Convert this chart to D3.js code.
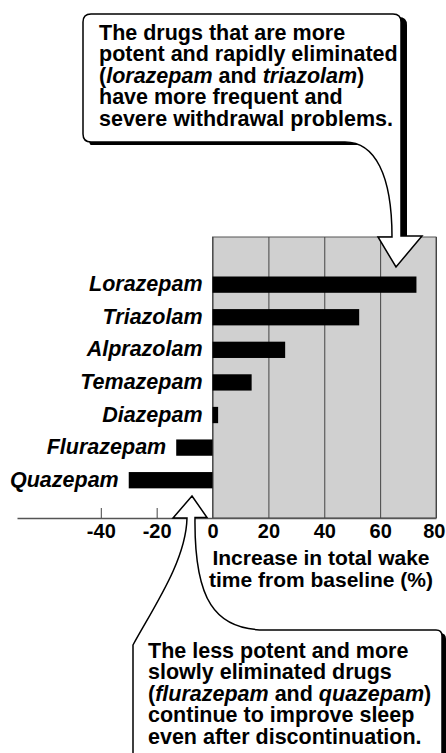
<!DOCTYPE html>
<html>
<head>
<meta charset="utf-8">
<script src="https://cdn.jsdelivr.net/npm/d3@7"></script>
<style>
  body { margin: 0; background: #fff; }
  svg text { font-family: "Liberation Sans", Arial, Helvetica, sans-serif; font-weight: bold; fill: #000; }
</style>
</head>
<body>
<svg id="chart" width="446" height="753"></svg>
<script>
// data
var drugs = ["Lorazepam", "Triazolam", "Alprazolam", "Temazepam", "Diazepam", "Flurazepam", "Quazepam"];
var wakeIncrease = [73, 52.5, 26, 14, 2, -13, -30];
var tickValues = [-40, -20, 0, 20, 40, 60, 80];
var axisTitle = ["Increase in total wake", "time from baseline (%)"];

// callout texts, segments flagged italic
var topNote = [
  [["The drugs that are more", false]],
  [["potent and rapidly eliminated", false]],
  [["(", false], ["lorazepam", true], [" and ", false], ["triazolam", true], [")", false]],
  [["have more frequent and", false]],
  [["severe withdrawal problems.", false]]
];
var bottomNote = [
  [["The less potent and more", false]],
  [["slowly eliminated drugs", false]],
  [["(", false], ["flurazepam", true], [" and ", false], ["quazepam", true], [")", false]],
  [["continue to improve sleep", false]],
  [["even after discontinuation.", false]]
];

var svg = d3.select("#chart");
var axisY = 518, panelTop = 237;

var x = d3.scaleLinear().domain([-70, 80]).range([17, 436]);
var y = d3.scaleBand().domain(drugs).range([268.35, 496.5]).paddingInner(0.5).paddingOuter(0.25);

// grey panel for the positive side
svg.append("rect")
  .attr("x", x(0)).attr("y", panelTop)
  .attr("width", x(80) - x(0)).attr("height", axisY - panelTop)
  .attr("fill", "#d0d0d0").attr("stroke", "#555").attr("stroke-width", 1);

// axis (ticks >= 0 become grid lines)
var axis = svg.append("g")
  .attr("transform", "translate(0," + axisY + ")")
  .call(d3.axisBottom(x).tickValues(tickValues).tickSizeInner(-10).tickSizeOuter(0).tickPadding(6));
axis.select(".domain").attr("stroke", "#555").attr("stroke-width", 1.5);
axis.selectAll(".tick line").attr("stroke", "#444").attr("stroke-width", 1)
  .filter(function(d) { return d >= 0; })
  .attr("y2", -(axisY - panelTop));
axis.selectAll(".tick text").attr("font-size", 20).attr("font-family", null)
  .text(function(d) { return d < 0 ? "-" + Math.abs(d) : d; });
// last label sits against the right edge
axis.selectAll(".tick text").filter(function(d) { return d === 80; })
  .attr("text-anchor", "end").attr("x", 9);

// bars
var rows = drugs.map(function(d, i) { return { name: d, v: wakeIncrease[i] }; });
svg.append("g").selectAll("rect").data(rows).enter().append("rect")
  .attr("x", function(d) { return x(Math.min(0, d.v)); })
  .attr("y", function(d) { return y(d.name); })
  .attr("width", function(d) { return Math.abs(x(d.v) - x(0)); })
  .attr("height", y.bandwidth())
  .attr("fill", "#000");

svg.append("g").selectAll("text").data(rows).enter().append("text")
  .attr("x", function(d) { return x(Math.min(0, d.v)) - 10; })
  .attr("y", function(d) { return y(d.name) + y.bandwidth() / 2; })
  .attr("dy", "0.31em")
  .attr("text-anchor", "end")
  .attr("font-size", 21.5)
  .attr("font-style", "italic")
  .text(function(d) { return d.name; });

// axis title
svg.append("g").selectAll("text").data(axisTitle).enter().append("text")
  .attr("x", 321).attr("y", function(d, i) { return 565 + i * 22; })
  .attr("text-anchor", "middle").attr("font-size", 21)
  .text(function(d) { return d; });

// top callout with arrow down to lorazepam
var topShadow = "M91,17 L399,17 Q407,17 407,25 L407,239 L398,239 L398,145 L91,145 Q89,145 89,137 L89,25 Q89,17 91,17 Z";
svg.append("path").attr("d", topShadow).attr("fill", "#000");
var topShape = "M91,14 L393,14 Q401,14 401,22 L401,236 L422,236 L396,267 L378,237 L392,237 " +
  "C392,175 375,142 345,142 L91,142 Q83,142 83,134 L83,22 Q83,14 91,14 Z";
svg.append("path").attr("d", topShape).attr("fill", "#fff").attr("stroke", "#000").attr("stroke-width", 1.5);

// bottom callout with arrow up to flurazepam/quazepam
svg.append("path").attr("d", "M140,633 L440,633 Q446,633 446,639 L446,760 L140,760 Z").attr("fill", "#000");
var botShape = "M192,496 L207,517.5 L195,517.5 C194,600 215,630 265,630 L436,630 Q442,630 442,636 L442,760 " +
  "L133,760 L133,645 C155,605 186,560 187,518 L173,518 Z";
svg.append("path").attr("d", botShape).attr("fill", "#fff").attr("stroke", "#000").attr("stroke-width", 1.5);

// each segment is its own text element, placed after the previous one
function writeNote(lines, x0, y0) {
  var g = svg.append("g");
  lines.forEach(function(line, i) {
    var cx = x0;
    line.forEach(function(seg) {
      var t = g.append("text")
        .attr("x", cx).attr("y", y0 + i * 21.4)
        .attr("font-size", 21.5)
        .attr("font-style", seg[1] ? "italic" : "normal")
        .style("white-space", "pre")
        .text(seg[0]);
      cx += t.node().getComputedTextLength();
    });
  });
}
writeNote(topNote, 99, 40);
writeNote(bottomNote, 148, 658);
</script>
</body>
</html>
